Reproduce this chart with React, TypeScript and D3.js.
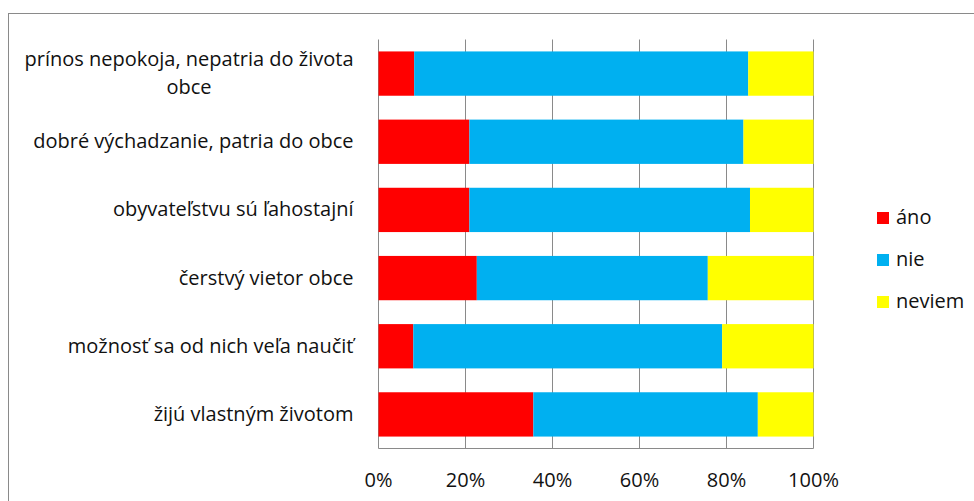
import React, { useEffect, useRef } from "react";
import * as d3 from "d3";

const categories = [
  "prínos nepokoja, nepatria do života obce",
  "dobré výchadzanie, patria do obce",
  "obyvateľstvu sú ľahostajní",
  "čerstvý vietor obce",
  "možnosť sa od nich veľa naučiť",
  "žijú vlastným životom",
];
const ano = [8.2, 20.9, 20.9, 22.6, 8.0, 35.6];
const nie = [76.8, 63.0, 64.5, 53.1, 71.0, 51.6];
const neviem = [15.0, 16.1, 14.6, 24.3, 21.0, 12.8];
const seriesNames = ["áno", "nie", "neviem"];
const seriesColors = ["#FF0000", "#00B0F0", "#FFFF00"];
const xTicks = [0, 20, 40, 60, 80, 100];

const FONT = "'Open Sans', sans-serif";
const FS = 20;

const App = () => {
  const svgRef = useRef<SVGSVGElement>(null);
  const width = 974;
  const height = 501;
  const margin = { top: 39.5, left: 378.5, right: 160.5, bottom: 52.5 };

  useEffect(() => {
    const svg = d3.select(svgRef.current);
    svg.selectAll("*").remove();

    // outer chart frame (runs off the page on right and bottom)
    svg
      .append("rect")
      .attr("x", 8.5)
      .attr("y", 13.5)
      .attr("width", 1000)
      .attr("height", 600)
      .attr("fill", "white")
      .attr("stroke", "#8a8a8a")
      .attr("stroke-width", 1);

    const innerW = width - margin.left - margin.right;
    const innerH = height - margin.top - margin.bottom;

    const x = d3.scaleLinear().domain([0, 100]).range([0, innerW]);
    const y = d3
      .scaleBand()
      .domain(categories)
      .range([0, innerH])
      .paddingInner(0.35)
      .paddingOuter(0.175);

    const g = svg
      .append("g")
      .attr("transform", `translate(${margin.left},${margin.top})`);

    // gridlines
    g.selectAll("line.grid")
      .data(xTicks)
      .join("line")
      .attr("class", "grid")
      .attr("x1", (d) => Math.round(x(d)))
      .attr("x2", (d) => Math.round(x(d)))
      .attr("y1", 0)
      .attr("y2", innerH)
      .attr("stroke", "#8a8a8a")
      .attr("stroke-width", 1);

    g.append("line")
      .attr("x1", 0)
      .attr("x2", innerW)
      .attr("y1", Math.round(innerH))
      .attr("y2", Math.round(innerH))
      .attr("stroke", "#8a8a8a");

    const rows = categories.map((c, i) => ({
      cat: c,
      values: [ano[i], nie[i], neviem[i]],
    }));
    const stacked = d3
      .stack<any, number>()
      .keys([0, 1, 2])
      .value((d, k) => d.values[k])(rows);

    stacked.forEach((layer, k) => {
      g.selectAll(`rect.s${k}`)
        .data(layer)
        .join("rect")
        .attr("class", `s${k}`)
        .attr("x", (d) => x(d[0]))
        .attr("width", (d) => x(d[1]) - x(d[0]))
        .attr("y", (d) => y(d.data.cat)!)
        .attr("height", y.bandwidth())
        .attr("fill", seriesColors[k]);
    });

    // x tick labels
    g.selectAll("text.xt")
      .data(xTicks)
      .join("text")
      .attr("class", "xt")
      .attr("x", (d) => x(d))
      .attr("y", innerH + 38)
      .attr("text-anchor", "middle")
      .attr("font-family", FONT)
      .attr("font-size", FS)
      .attr("fill", "#111")
      .text((d) => `${d}%`);

    // category labels, wrapped like the spreadsheet does
    const maxW = 350;
    const labelRight = -25;
    categories.forEach((c) => {
      const cy = y(c)! + y.bandwidth() / 2;
      const t = g
        .append("text")
        .attr("font-family", FONT)
        .attr("font-size", FS)
        .attr("fill", "#111");
      const words = c.split(" ");
      const lines: string[] = [];
      let cur = "";
      words.forEach((w) => {
        const test = cur ? cur + " " + w : w;
        t.text(test);
        if ((t.node() as SVGTextElement).getComputedTextLength() > maxW && cur) {
          lines.push(cur);
          cur = w;
        } else cur = test;
      });
      lines.push(cur);
      t.text(null);
      const lh = 28;
      if (lines.length === 1) {
        t.attr("text-anchor", "end")
          .attr("x", labelRight)
          .attr("y", cy + 6.5)
          .text(lines[0]);
      } else {
        const widths = lines.map((l) => {
          t.text(l);
          return (t.node() as SVGTextElement).getComputedTextLength();
        });
        t.text(null);
        const mid = labelRight - d3.max(widths)! / 2;
        lines.forEach((l, j) => {
          t.append("tspan")
            .attr("x", mid)
            .attr("y", cy + 6 - ((lines.length - 1) * lh) / 2 + j * lh)
            .attr("text-anchor", "middle")
            .text(l);
        });
      }
    });

    // legend
    const lg = svg.append("g").attr("transform", "translate(877,212)");
    seriesNames.forEach((s, k) => {
      lg.append("rect")
        .attr("x", 0)
        .attr("y", k * 42)
        .attr("width", 12)
        .attr("height", 12)
        .attr("fill", seriesColors[k]);
      lg.append("text")
        .attr("x", 19)
        .attr("y", k * 42 + 12)
        .attr("font-family", FONT)
        .attr("font-size", FS)
        .attr("fill", "#111")
        .text(s);
    });
  }, []);

  return (
    <svg
      ref={svgRef}
      width={width}
      height={height}
      style={{ position: "absolute", left: 0, top: 0, background: "white" }}
    ></svg>
  );
};

export default App;
